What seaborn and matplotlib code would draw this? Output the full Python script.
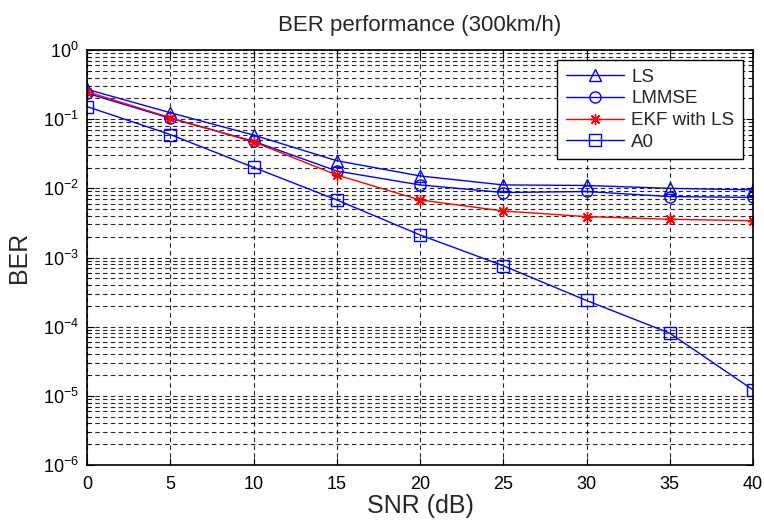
import numpy as np
import pandas as pd
import matplotlib
matplotlib.use("Agg")
import matplotlib.pyplot as plt
import seaborn as sns
from matplotlib.ticker import LogLocator, FixedLocator, NullFormatter

snr = [0, 5, 10, 15, 20, 25, 30, 35, 40]
ber_ls = [0.27, 0.124, 0.059, 0.0251, 0.0151, 0.0112, 0.0110, 0.0100, 0.0095]
ber_lmmse = [0.237, 0.103, 0.048, 0.0178, 0.0112, 0.0087, 0.0090, 0.0076, 0.0074]
ber_ekf = [0.25, 0.105, 0.047, 0.0156, 0.0068, 0.0047, 0.0039, 0.00357, 0.0034]
ber_a0 = [0.152, 0.060, 0.0201, 0.0068, 0.00212, 0.00076, 0.000239, 0.0000805, 0.0000122]
series_names = ["LS", "LMMSE", "EKF with LS", "A0"]
x_ticks = [0, 5, 10, 15, 20, 25, 30, 35, 40]

sns.set_theme(style="ticks")
plt.rcParams["font.family"] = ["Liberation Sans", "DejaVu Sans"]
plt.rcParams["mathtext.fontset"] = "custom"
plt.rcParams["mathtext.rm"] = "Liberation Sans"
plt.rcParams["mathtext.it"] = "Liberation Sans:italic"
plt.rcParams["mathtext.bf"] = "Liberation Sans:bold"

fig = plt.figure(figsize=(7.64, 5.25), dpi=100)
ax = fig.add_axes([87 / 764, 1 - 465 / 525, (753 - 87) / 764, (465 - 50) / 525])

styles = [
    (series_names[0], ber_ls, "#0000ff", "^"),
    (series_names[1], ber_lmmse, "#0000ff", "o"),
    (series_names[2], ber_ekf, "#ff0000", (8, 2, 0)),
    (series_names[3], ber_a0, "#0000ff", "s"),
]
for name, vals, col, mk in styles:
    df = pd.DataFrame({"SNR": snr, "BER": vals})
    sns.lineplot(data=df, x="SNR", y="BER", ax=ax, color=col, marker=mk,
                 markersize=8, markerfacecolor="none", markeredgecolor=col,
                 markeredgewidth=1.0, linewidth=1.0, label=name)

ax.set_yscale("log")
ax.set_xlim(0, 40)
ax.set_ylim(1e-6, 1)
ax.xaxis.set_major_locator(FixedLocator(x_ticks))
ax.yaxis.set_major_locator(LogLocator(base=10, numticks=10))
ax.yaxis.set_minor_locator(LogLocator(base=10, subs=np.arange(2, 10), numticks=100))
ax.yaxis.set_minor_formatter(NullFormatter())

grid_kw = dict(color="black", linestyle=(0, (4, 3)), linewidth=0.8, alpha=0.85)
ax.grid(True, which="major", axis="both", **grid_kw)
ax.grid(True, which="minor", axis="y", **grid_kw)
ax.set_axisbelow(True)

ax.tick_params(axis="both", which="both", direction="in", top=True, right=True,
               labelsize=13, colors="black")
ax.tick_params(axis="x", which="major", pad=8)
ax.tick_params(axis="y", which="major", pad=6)
ax.tick_params(which="major", length=5, width=0.8)
ax.tick_params(which="minor", length=3, width=0.6)
for sp in ax.spines.values():
    sp.set_color("black")
    sp.set_linewidth(1.2)

ax.set_title("BER performance (300km/h)", fontsize=16, pad=14)
ax.set_xlabel("SNR (dB)", fontsize=18, labelpad=1)
ax.set_ylabel("BER", fontsize=18, labelpad=8)

leg = ax.legend(loc="upper right", bbox_to_anchor=((743 - 87) / 666, (465 - 60) / 415),
                borderaxespad=0, fontsize=13.5, handlelength=3.1, handletextpad=0.4,
                labelspacing=0.25, borderpad=0.45, fancybox=False, framealpha=1,
                edgecolor="black")
leg.get_frame().set_linewidth(1.0)

fig.savefig("out.png", dpi=100)
